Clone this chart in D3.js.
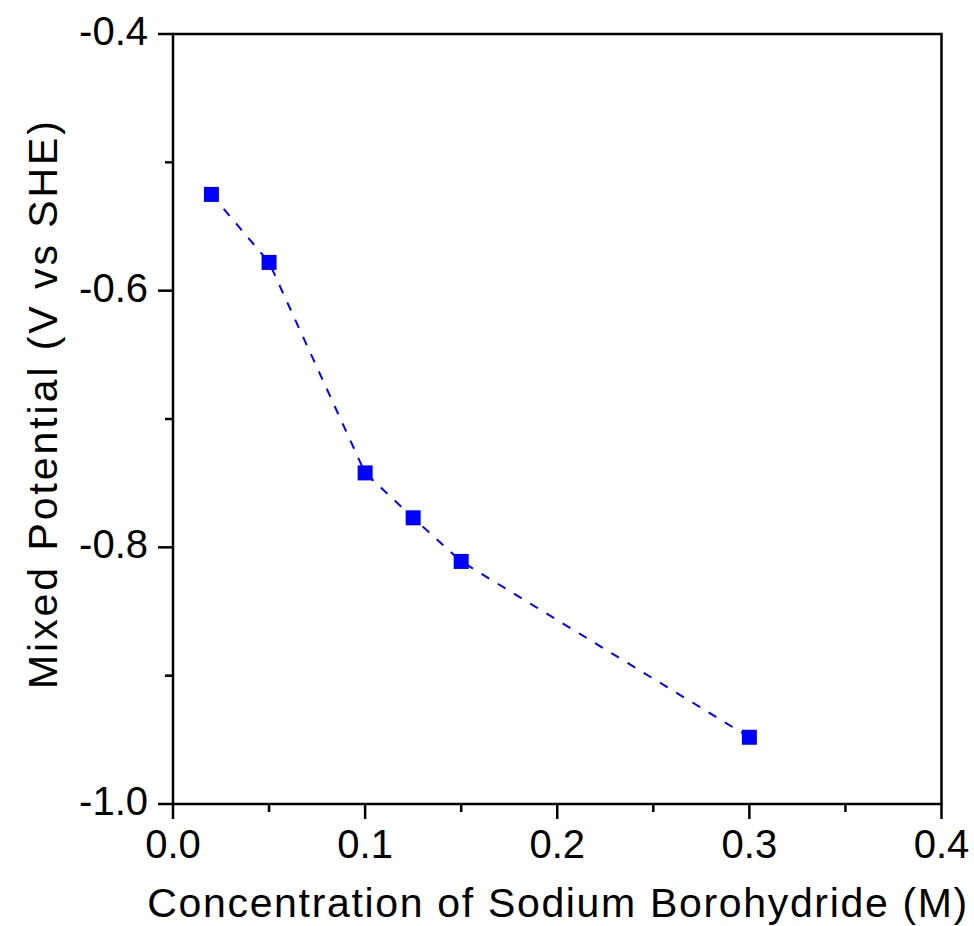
<!DOCTYPE html>
<html>
<head>
<meta charset="utf-8">
<script src="https://cdn.jsdelivr.net/npm/d3@7"></script>
<style>
  body { margin: 0; background: #fff; }
  svg { display: block; font-family: "Liberation Sans", Arial, sans-serif; }
</style>
</head>
<body>
<div class="chart"></div>
<script>
var width = 974;
var height = 926;

// data
var concentration = [0.02, 0.05, 0.1, 0.125, 0.15, 0.3];
var potential = [-0.525, -0.578, -0.742, -0.777, -0.811, -0.948];
var xTicks = [0.0, 0.1, 0.2, 0.3, 0.4];
var yTicks = [-1.0, -0.8, -0.6, -0.4];

var plotLeft = 173, plotRight = 941.5, plotTop = 34, plotBottom = 804;

var svg = d3.select('.chart')
	.append('svg')
	.attr('width', width)
	.attr('height', height);

var x = d3.scaleLinear().domain([0, 0.4]).range([plotLeft, plotRight]);
var y = d3.scaleLinear().domain([-1.0, -0.4]).range([plotBottom, plotTop]);

// minor ticks
svg.selectAll('.xminor')
	.data([0.05, 0.15, 0.25, 0.35])
	.enter().append('line')
	.attr('x1', function(d){ return x(d) })
	.attr('x2', function(d){ return x(d) })
	.attr('y1', plotBottom)
	.attr('y2', plotBottom + 8)
	.attr('stroke', '#000')
	.attr('stroke-width', 2.5);

svg.selectAll('.yminor')
	.data([-0.9, -0.7, -0.5])
	.enter().append('line')
	.attr('y1', function(d){ return y(d) })
	.attr('y2', function(d){ return y(d) })
	.attr('x1', plotLeft)
	.attr('x2', plotLeft - 8)
	.attr('stroke', '#000')
	.attr('stroke-width', 2.5);

// major ticks
svg.selectAll('.xmajor')
	.data(xTicks)
	.enter().append('line')
	.attr('x1', function(d){ return x(d) })
	.attr('x2', function(d){ return x(d) })
	.attr('y1', plotBottom)
	.attr('y2', plotBottom + 15)
	.attr('stroke', '#000')
	.attr('stroke-width', 2.5);

svg.selectAll('.ymajor')
	.data(yTicks)
	.enter().append('line')
	.attr('y1', function(d){ return y(d) })
	.attr('y2', function(d){ return y(d) })
	.attr('x1', plotLeft)
	.attr('x2', plotLeft - 15)
	.attr('stroke', '#000')
	.attr('stroke-width', 2.5);

// frame
svg.append('rect')
	.attr('x', plotLeft)
	.attr('y', plotTop)
	.attr('width', plotRight - plotLeft)
	.attr('height', plotBottom - plotTop)
	.attr('fill', 'none')
	.attr('stroke', '#000')
	.attr('stroke-width', 2.5);

// tick labels
svg.selectAll('.xlabel')
	.data(xTicks)
	.enter().append('text')
	.attr('x', function(d){ return x(d) })
	.attr('y', 858)
	.attr('text-anchor', 'middle')
	.attr('font-size', '40px')
	.text(function(d){ return d.toFixed(1) });

svg.selectAll('.ylabel')
	.data(yTicks)
	.enter().append('text')
	.attr('x', 148)
	.attr('y', function(d){ return y(d) + 11 })
	.attr('text-anchor', 'end')
	.attr('font-size', '40px')
	.text(function(d){ return d.toFixed(1) });

// axis titles
svg.append('text')
	.attr('x', (plotLeft + plotRight) / 2)
	.attr('y', 917)
	.attr('text-anchor', 'middle')
	.attr('font-size', '41px')
	.attr('textLength', 820)
	.attr('lengthAdjust', 'spacing')
	.text('Concentration of Sodium Borohydride (M)');

svg.append('text')
	.attr('transform', 'translate(57,405) rotate(-90)')
	.attr('text-anchor', 'middle')
	.attr('font-size', '41px')
	.attr('textLength', 568)
	.attr('lengthAdjust', 'spacing')
	.text('Mixed Potential (V vs SHE)');

// series
var pts = concentration.map(function(c, i){ return [c, potential[i]] });

svg.append('path')
	.datum(pts)
	.attr('fill', 'none')
	.attr('stroke', '#0000ff')
	.attr('stroke-width', 2)
	.attr('stroke-dasharray', '9,10')
	.attr('d', d3.line()
		.x(function(d){ return x(d[0]) })
		.y(function(d){ return y(d[1]) }));

svg.selectAll('.pt')
	.data(pts)
	.enter().append('rect')
	.attr('x', function(d){ return x(d[0]) - 7.5 })
	.attr('y', function(d){ return y(d[1]) - 7.5 })
	.attr('width', 15)
	.attr('height', 15)
	.attr('fill', '#0000ff');
</script>
</body>
</html>
